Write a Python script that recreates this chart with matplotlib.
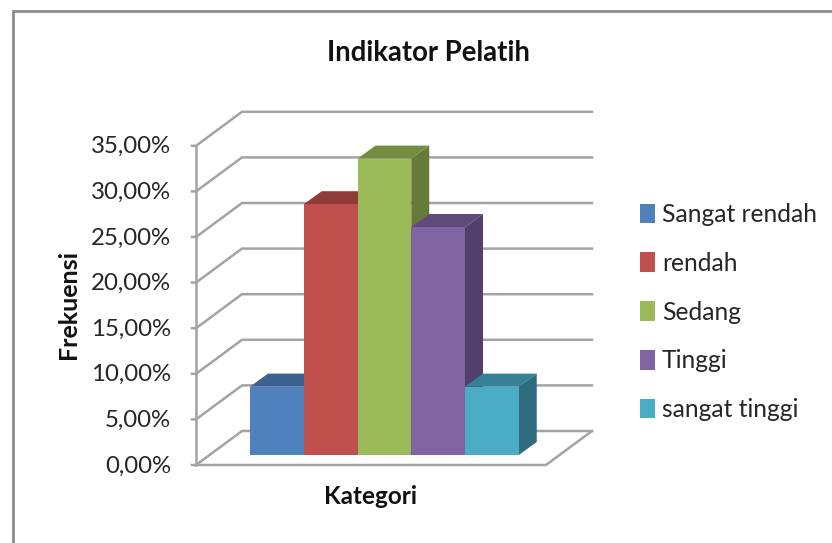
import matplotlib
matplotlib.use("Agg")
import matplotlib.pyplot as plt
from matplotlib.patches import Patch

plt.rcParams["font.family"] = ["Lato", "DejaVu Sans"]

categories = ["Sangat rendah", "rendah", "Sedang", "Tinggi", "sangat tinggi"]
values = [7.5, 27.5, 32.5, 25.0, 7.5]
ticks = [0, 5, 10, 15, 20, 25, 30, 35]
tick_labels = ["0,00%", "5,00%", "10,00%", "15,00%", "20,00%", "25,00%", "30,00%", "35,00%"]

front_colors = ["#4F81BD", "#C0504D", "#9BBB59", "#8064A2", "#4BACC6"]
top_colors = ["#3B618F", "#8F3C39", "#748C42", "#5F4A79", "#378196"]
side_colors = ["#30507A", "#7A3230", "#667A3A", "#533F6B", "#2F6C7E"]
grid_color = "#A3A3A3"
text_color = "#262626"

W, H = 832, 543
PX_PER_PCT = 9.12  # 45.6 px per 5 %
X_WALL, Y_ZERO = 196, 465
WALL_DX, WALL_DY = 46, 34  # depth of the floor in px
X_END = 546
BAR_LEFT, BAR_WIDTH = 250, 53.75
BAR_BASE = 10 / PX_PER_PCT  # bars stand a bit behind the front edge
BAR_DX, BAR_DY = 18, 13 / PX_PER_PCT

fig = plt.figure(figsize=(W / 100, H / 100), dpi=100)
ax = fig.add_axes([0, 0, 1, 1])
# x in pixels, y in percent
ax.set_xlim(0, W)
ax.set_ylim((Y_ZERO - H) / PX_PER_PCT, Y_ZERO / PX_PER_PCT)
ax.axis("off")

wall_dy = WALL_DY / PX_PER_PCT

# outer chart border, only left and top show
ax.plot([12.5, 12.5, W], [(Y_ZERO - H) / PX_PER_PCT, (Y_ZERO - 11) / PX_PER_PCT, (Y_ZERO - 11) / PX_PER_PCT],
        color="#8C8C8C", lw=2, solid_joinstyle="miter", zorder=1)

# walls and gridlines
for t, lab in zip(ticks, tick_labels):
    ax.plot([X_WALL - 4, X_WALL, X_WALL + WALL_DX, 592], [t, t, t + wall_dy, t + wall_dy],
            color=grid_color, lw=1.8, zorder=2)
    ax.text(171, t - 1 / PX_PER_PCT, lab, ha="right", va="center", fontsize=17.3, color=text_color)
ax.plot([X_WALL, X_WALL], [0, 35], color=grid_color, lw=1.8, zorder=2)
ax.plot([X_WALL, X_END, 592], [0, 0, wall_dy], color=grid_color, lw=1.8, zorder=2)

# bars, left to right so each one covers the side of the previous
for i, (val, fc, tc, sc) in enumerate(zip(values, front_colors, top_colors, side_colors)):
    x0 = BAR_LEFT + i * BAR_WIDTH
    x1 = x0 + BAR_WIDTH
    y0 = BAR_BASE
    y1 = y0 + val
    z = 3 + i
    ax.fill([x0, x0 + BAR_DX, x1 + BAR_DX, x1], [y1, y1 + BAR_DY, y1 + BAR_DY, y1], color=tc, lw=0, zorder=z)
    ax.fill([x1, x1 + BAR_DX, x1 + BAR_DX, x1], [y0, y0 + BAR_DY, y1 + BAR_DY, y1], color=sc, lw=0, zorder=z)
    ax.bar(x0, val, BAR_WIDTH, bottom=y0, align="edge", color=fc, lw=0, zorder=z)

ax.text(428, (Y_ZERO - 52.5) / PX_PER_PCT, "Indikator Pelatih", ha="center", va="center",
        fontsize=19.8, fontweight="bold", color="#111111")
ax.text(370, (Y_ZERO - 497) / PX_PER_PCT, "Kategori", ha="center", va="center",
        fontsize=17.5, fontweight="bold", color="#111111")
ax.text(68, (Y_ZERO - 304) / PX_PER_PCT, "Frekuensi", ha="center", va="center", rotation=90,
        fontsize=18, fontweight="bold", color="#111111")

handles = [Patch(facecolor=c, edgecolor="none", label=n) for n, c in zip(categories, front_colors)]
ax.legend(handles=handles, loc="center left", bbox_to_anchor=(640 / W, 1 - 312 / H), frameon=False,
          fontsize=17.7, labelcolor=text_color, labelspacing=1.05, handlelength=0.6, handleheight=0.85,
          handletextpad=0.3, borderpad=0, borderaxespad=0)

fig.savefig("out.png", dpi=100)
